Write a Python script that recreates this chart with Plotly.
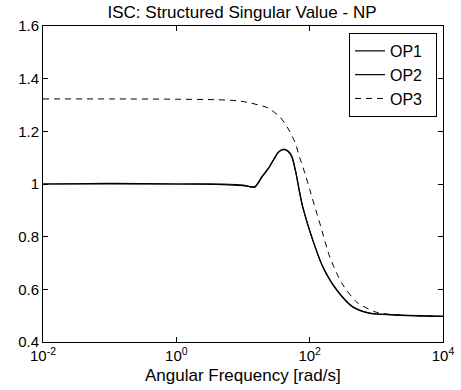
import plotly.graph_objects as go

# Frequencies (rad/s) and structured singular values
freq_op1 = [0.01, 0.1, 1, 5, 10, 15, 19, 24, 29, 34, 40, 47, 54, 62, 70, 79, 112, 158, 256, 445, 800, 2000, 10000]
mu_op1 = [1.0, 1.0, 1.0, 0.998, 0.994, 0.99, 1.026, 1.06, 1.095, 1.122, 1.132, 1.126, 1.105, 1.045, 0.975, 0.912, 0.786, 0.684, 0.596, 0.532, 0.509, 0.503, 0.497]

freq_op2 = [0.01, 0.1, 1, 5, 10, 15, 19, 24, 29, 34, 40, 47, 54, 62, 70, 79, 112, 158, 256, 445, 800, 2000, 10000]
mu_op2 = [1.0, 1.002, 1.0, 1.0, 0.996, 0.988, 1.024, 1.058, 1.093, 1.12, 1.13, 1.124, 1.103, 1.043, 0.972, 0.91, 0.784, 0.686, 0.598, 0.534, 0.51, 0.502, 0.497]

freq_op3 = [0.01, 0.1, 1, 4, 9, 23, 36, 47, 60, 71, 85, 101, 142, 201, 304, 510, 1000, 2000, 10000]
mu_op3 = [1.323, 1.323, 1.322, 1.32, 1.315, 1.29, 1.254, 1.212, 1.159, 1.10, 1.04, 0.976, 0.851, 0.722, 0.623, 0.551, 0.513, 0.503, 0.497]

x_tickvals = [0.01, 1, 100, 10000]
x_ticktext = ["10<sup>-2</sup>", "10<sup>0</sup>", "10<sup>2</sup>", "10<sup>4</sup>"]

pad = "\u00a0\u00a0"
fig = go.Figure()
fig.add_trace(go.Scatter(x=freq_op1, y=mu_op1, mode="lines", name="OP1" + pad,
                         line=dict(color="black", width=1.2, shape="spline", smoothing=0.7)))
fig.add_trace(go.Scatter(x=freq_op2, y=mu_op2, mode="lines", name="OP2" + pad,
                         line=dict(color="black", width=1.2, shape="spline", smoothing=0.7)))
fig.add_trace(go.Scatter(x=freq_op3, y=mu_op3, mode="lines", name="OP3" + pad,
                         line=dict(color="black", width=1, dash="6px,5px", shape="spline", smoothing=0.7)))

fig.update_layout(
    width=461, height=390,
    margin=dict(l=43, r=18, t=26, b=48, autoexpand=False),
    paper_bgcolor="white", plot_bgcolor="white",
    font=dict(family="Liberation Sans, Arial", size=15, color="black"),
    title=dict(text="ISC: Structured Singular Value - NP", x=0.525, xanchor="center",
               y=0.969, yanchor="middle", font=dict(size=17)),
    showlegend=True,
    legend=dict(x=0.985, xanchor="right", y=0.978, yanchor="top",
                bordercolor="black", borderwidth=1, bgcolor="white",
                font=dict(size=16), tracegroupgap=0, itemwidth=30),
    annotations=[dict(text="Angular Frequency [rad/s]", xref="paper", yref="paper",
                      x=0.5, y=-0.106, xanchor="center", yanchor="middle",
                      showarrow=False, font=dict(size=17))],
)
fig.update_xaxes(type="log", range=[-2, 4], tickvals=x_tickvals, ticktext=x_ticktext,
                 automargin=False, tickfont=dict(size=15), ticklabelstandoff=0,
                 showgrid=False, zeroline=False, showline=True, linecolor="black",
                 linewidth=1, mirror="ticks", ticks="inside", ticklen=5, tickcolor="black")
fig.update_yaxes(range=[0.4, 1.6], dtick=0.2, tick0=0.4, automargin=False,
                 showgrid=False, zeroline=False, showline=True, linecolor="black",
                 linewidth=1, mirror="ticks", ticks="inside", ticklen=5, tickcolor="black")

fig.write_html("out.html")
